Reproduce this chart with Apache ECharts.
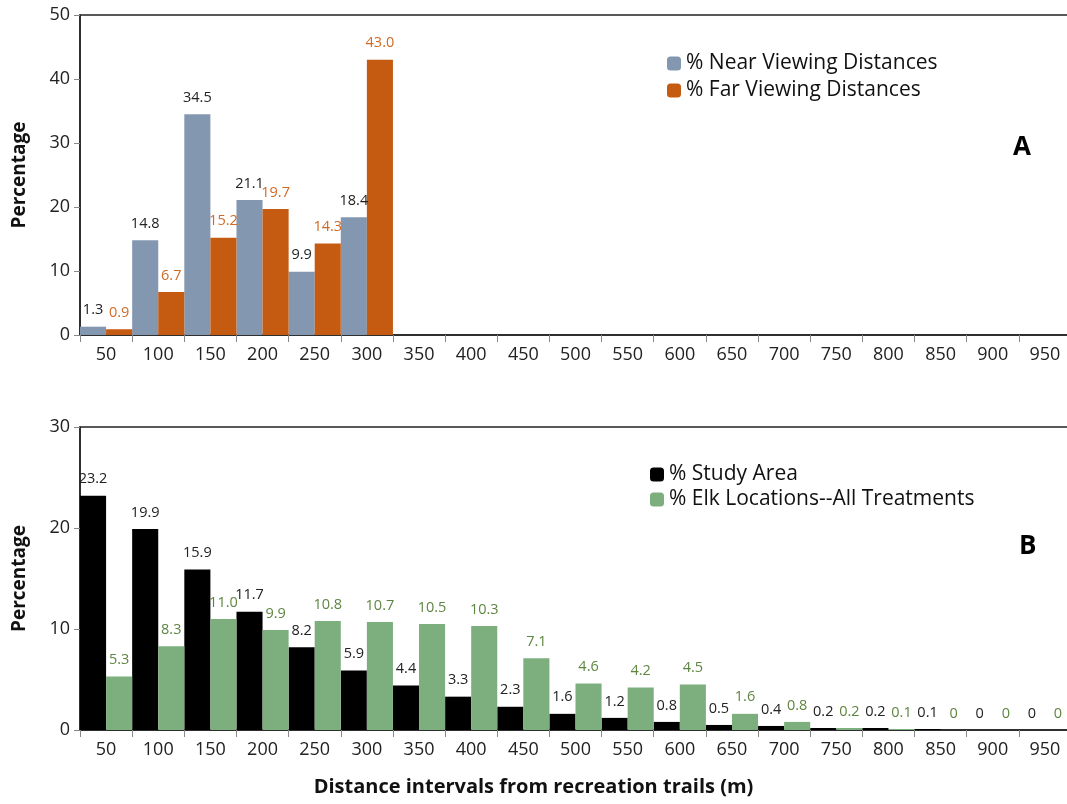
<!DOCTYPE html>
<html>
<head>
<meta charset="utf-8">
<script src="https://cdn.jsdelivr.net/npm/echarts@6/dist/echarts.min.js"></script>
<style>
  html, body { margin: 0; padding: 0; background: #fff; }
  #chart { width: 1067px; height: 804px; }
</style>
</head>
<body>
<div id="chart"></div>
<script>
// 距离区间（m）
const categories = ['50', '100', '150', '200', '250', '300', '350', '400', '450', '500',
    '550', '600', '650', '700', '750', '800', '850', '900', '950'];

// 图 A：观察距离
const nearViewing = [1.3, 14.8, 34.5, 21.1, 9.9, 18.4, null, null, null, null,
    null, null, null, null, null, null, null, null, null];
const farViewing = [0.9, 6.7, 15.2, 19.7, 14.3, 43.0, null, null, null, null,
    null, null, null, null, null, null, null, null, null];

// 图 B：研究区与麋鹿位置
const studyArea = [23.2, 19.9, 15.9, 11.7, 8.2, 5.9, 4.4, 3.3, 2.3, 1.6,
    1.2, 0.8, 0.5, 0.4, 0.2, 0.2, 0.1, 0, 0];
const elkLocations = [5.3, 8.3, 11.0, 9.9, 10.8, 10.7, 10.5, 10.3, 7.1, 4.6,
    4.2, 4.5, 1.6, 0.8, 0.2, 0.1, 0, 0, 0];

const FONT = 'Open Sans';

function fmt(p) {
    return p.value === 0 ? '0' : p.value.toFixed(1);
}

function barSeries(name, data, color, labelColor, axisIndex) {
    return {
        name: name,
        type: 'bar',
        data: data,
        xAxisIndex: axisIndex,
        yAxisIndex: axisIndex,
        barGap: '0%',
        barCategoryGap: '0%',
        itemStyle: {color: color},
        label: {
            show: true,
            position: 'top',
            distance: 9,
            formatter: fmt,
            color: labelColor,
            fontFamily: FONT,
            fontSize: 14.5
        }
    };
}

function xAxis(idx) {
    return {
        type: 'category',
        gridIndex: idx,
        data: categories,
        axisLine: {lineStyle: {color: '#222', width: 1.5}},
        axisTick: {show: true, length: 7, lineStyle: {color: '#888'}},
        axisLabel: {color: '#222', fontFamily: FONT, fontSize: 18, margin: 11}
    };
}

function yAxis(idx, max) {
    return {
        type: 'value',
        gridIndex: idx,
        min: 0,
        max: max,
        interval: 10,
        name: 'Percentage',
        nameLocation: 'middle',
        nameGap: 51,
        nameTextStyle: {color: '#111', fontFamily: FONT, fontSize: 19, fontWeight: 'bold'},
        axisLine: {show: true, lineStyle: {color: '#222', width: 1.5}},
        axisTick: {show: true, length: 6, lineStyle: {color: '#888'}},
        splitLine: {show: false},
        axisLabel: {color: '#222', fontFamily: FONT, fontSize: 18, margin: 10}
    };
}

const option = {
    animation: false,
    backgroundColor: '#fff',
    grid: [
        {left: 80, top: 15, width: 991, height: 320, outerBoundsMode: 'none',
            show: true, borderColor: '#222', borderWidth: 1.5},
        {left: 80, top: 427, width: 991, height: 303, outerBoundsMode: 'none',
            show: true, borderColor: '#222', borderWidth: 1.5}
    ],
    legend: [
        {
            data: ['% Near Viewing Distances', '% Far Viewing Distances'],
            orient: 'vertical',
            left: 662, top: 48,
            itemWidth: 14, itemHeight: 14, itemGap: 6,
            textStyle: {color: '#111', fontFamily: FONT, fontSize: 21}
        },
        {
            data: ['% Study Area', '% Elk Locations--All Treatments'],
            orient: 'vertical',
            left: 645, top: 459,
            itemWidth: 14, itemHeight: 14, itemGap: 4,
            textStyle: {color: '#111', fontFamily: FONT, fontSize: 21}
        }
    ],
    title: [
        {text: 'A', left: 1008, top: 130, textStyle: {fontFamily: FONT, fontSize: 26, fontWeight: 'bold', color: '#000'}},
        {text: 'B', left: 1014, top: 529, textStyle: {fontFamily: FONT, fontSize: 26, fontWeight: 'bold', color: '#000'}},
        {text: 'Distance intervals from recreation trails (m)', left: 'center', top: 772,
            textStyle: {fontFamily: FONT, fontSize: 20, fontWeight: 'bold', color: '#111'}}
    ],
    xAxis: [xAxis(0), xAxis(1)],
    yAxis: [yAxis(0, 50), yAxis(1, 30)],
    series: [
        barSeries('% Near Viewing Distances', nearViewing, '#8497B0', '#222', 0),
        barSeries('% Far Viewing Distances', farViewing, '#C55A11', '#D06A25', 0),
        barSeries('% Study Area', studyArea, '#000000', '#222', 1),
        barSeries('% Elk Locations--All Treatments', elkLocations, '#7DAF7E', '#5E8540', 1)
    ]
};

const chart = echarts.init(document.getElementById('chart'));
chart.setOption(option);
</script>
</body>
</html>
